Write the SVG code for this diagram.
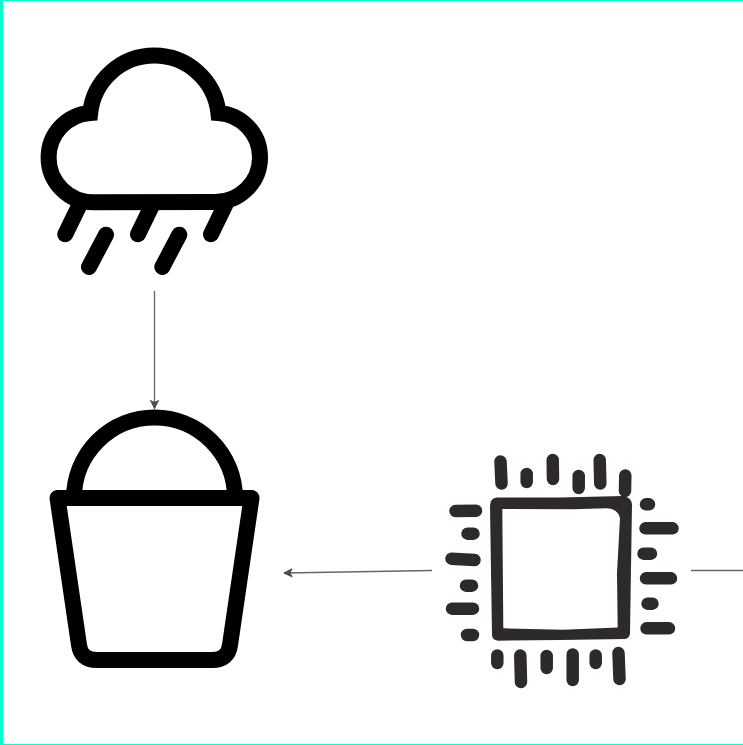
<svg xmlns="http://www.w3.org/2000/svg" width="743" height="745" viewBox="0 0 743 745">
<style>
.ic{fill:none;stroke:#000;stroke-width:16}
.pin{fill:none;stroke:#2e2a2b;stroke-width:12.5;stroke-linecap:round}
.c{fill:none;stroke:#666;stroke-width:1.3}
</style>
<defs>
<marker id="ah" viewBox="0 0 10 10" refX="9" refY="5" markerWidth="10" markerHeight="10" markerUnits="userSpaceOnUse" orient="auto"><path d="M1 1L9 5L1 9L3 5Z" fill="#4d4d4d" stroke="#4d4d4d" stroke-linejoin="round"/></marker>
</defs>
<rect width="743" height="745" fill="#fff"/>
<path d="M0 0H743V745H0Z M3 1V744H743V1Z" fill="#00ffcc" fill-rule="evenodd"/>
<g id="cloud">
<path class="ic" stroke-linejoin="miter" d="M93.300 202.200A44.700 44.700 0 0 1 48.600 157.500A44.700 44.700 0 0 1 90.200 112.900A64.500 64.500 0 0 1 218.400 112.900A44.500 44.500 0 0 1 260 157.500A44.500 44.500 0 0 1 215.500 202Z"/>
<path class="ic" stroke-linecap="round" d="M65.300 234.300L80 204M138 234.300L152.700 204M211 234.300L225.700 204M106 234.700L89 267M179.300 234.700L162.300 267"/>
</g>
<g id="bucket">
<path class="ic" d="M74 498A80.500 80.500 0 0 1 235 498"/>
<path class="ic" stroke-linejoin="round" d="M57.500 498H251.500L230 645Q228 660 212 660H97Q81 660 79 645Z"/>
</g>
<g id="chip">
<path fill="#2e2a2b" fill-rule="evenodd" d="M490 506Q490 498 497 497.500L560 497.500L623 496Q631 497 632 504L630 633Q630 638 625 639L560 640L498 640.700Q492 640 492 635Z M502.300 509L503.300 628.300L563 629.800L617.700 627.500L617 573L620 518Q618 509 606.700 508.300L573 509.300Z"/>
<path class="pin" d="M500.500 461.500L501.500 483.500M526.700 474V482M552.700 460L553 479M578.700 476V488M599.700 460L600.300 483.500M625.300 475.500L625 491"/>
<path class="pin" d="M455.500 511L476 510.700M467.500 533.700H473.500M451.500 558.700L474.500 560M466 585.700H472M452 608.700H473M467 635H473"/>
<path class="pin" d="M646 504.300H649M645.500 528.300H672.500M643.500 553.700H651M646 578.300H671M647.500 603.700H652.500M646.500 628.300H669"/>
<path class="pin" d="M497.300 655.500V663M520.300 655.500L521 682M546.700 656V668M572.700 654.500V680M595.700 655.500V663M618.500 653L619.500 679"/>
</g>
<g id="connectors">
<path class="c" marker-end="url(#ah)" d="M154.500 291V408.500"/>
<path class="c" marker-end="url(#ah)" d="M432 570.500L284 573"/>
<path class="c" d="M691 570.500H743"/>
</g>
</svg>
